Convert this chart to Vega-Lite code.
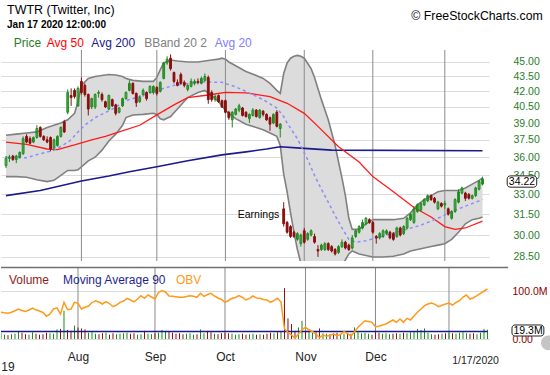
{
"$schema": "https://vega.github.io/schema/vega-lite/v6.json",
"padding": {"left": 0, "top": 4, "right": 0, "bottom": 0},
"background": "white",
"spacing": 3,
"config": {"view": {"stroke": null}},
"datasets": {
"d": [
{"i":0,"o":35.3,"h":36.1,"l":35.1,"c":35.9,"v":12,"obv":267},
{"i":1,"o":35.9,"h":36.2,"l":35.6,"c":36.0,"v":9,"obv":262},
{"i":2,"o":36.1,"h":36.2,"l":35.7,"c":35.8,"v":8,"obv":258},
{"i":3,"o":35.8,"h":36.2,"l":35.5,"c":36.1,"v":10,"obv":268},
{"i":4,"o":36.0,"h":36.5,"l":35.9,"c":36.4,"v":11,"obv":283},
{"i":5,"o":36.3,"h":37.8,"l":36.2,"c":37.6,"v":16,"obv":300},
{"i":6,"o":37.8,"h":38.0,"l":37.2,"c":37.3,"v":13,"obv":285},
{"i":7,"o":37.6,"h":37.8,"l":37.1,"c":37.2,"v":10,"obv":275},
{"i":8,"o":37.3,"h":37.8,"l":37.2,"c":37.7,"v":9,"obv":290},
{"i":9,"o":37.7,"h":38.8,"l":37.6,"c":38.5,"v":14,"obv":310},
{"i":10,"o":38.6,"h":38.7,"l":37.7,"c":37.8,"v":11,"obv":292},
{"i":11,"o":37.8,"h":37.9,"l":37.4,"c":37.5,"v":9,"obv":280},
{"i":12,"o":37.5,"h":37.8,"l":37.2,"c":37.3,"v":10,"obv":265},
{"i":13,"o":37.7,"h":37.8,"l":36.5,"c":36.7,"v":13,"obv":227},
{"i":14,"o":36.8,"h":37.6,"l":36.6,"c":37.5,"v":12,"obv":250},
{"i":15,"o":37.0,"h":37.9,"l":36.9,"c":37.8,"v":11,"obv":300},
{"i":16,"o":37.8,"h":38.7,"l":37.7,"c":38.6,"v":20,"obv":312},
{"i":17,"o":39.1,"h":39.3,"l":38.1,"c":38.2,"v":21,"obv":250},
{"i":18,"o":40.0,"h":42.2,"l":39.8,"c":41.9,"v":59,"obv":367},
{"i":19,"o":41.6,"h":42.3,"l":40.6,"c":41.4,"v":19,"obv":293},
{"i":20,"o":42.1,"h":42.3,"l":41.3,"c":41.5,"v":17,"obv":300},
{"i":21,"o":40.6,"h":42.5,"l":40.5,"c":42.3,"v":28,"obv":367},
{"i":22,"o":43.0,"h":43.4,"l":41.7,"c":41.9,"v":24,"obv":357},
{"i":23,"o":42.6,"h":42.8,"l":41.5,"c":41.7,"v":22,"obv":300},
{"i":24,"o":41.7,"h":41.8,"l":39.7,"c":40.3,"v":20,"obv":317},
{"i":25,"o":40.5,"h":41.4,"l":40.3,"c":41.3,"v":13,"obv":330},
{"i":26,"o":40.5,"h":41.8,"l":40.3,"c":41.7,"v":14,"obv":365},
{"i":27,"o":41.8,"h":42.1,"l":41.4,"c":41.9,"v":11,"obv":383},
{"i":28,"o":41.7,"h":41.9,"l":41.0,"c":41.2,"v":10,"obv":370},
{"i":29,"o":41.0,"h":41.1,"l":40.4,"c":40.5,"v":12,"obv":350},
{"i":30,"o":40.3,"h":41.7,"l":40.2,"c":41.6,"v":13,"obv":373},
{"i":31,"o":41.2,"h":41.3,"l":40.5,"c":40.6,"v":9,"obv":355},
{"i":32,"o":40.7,"h":40.8,"l":39.7,"c":39.9,"v":12,"obv":323},
{"i":33,"o":40.0,"h":40.5,"l":39.9,"c":40.4,"v":10,"obv":340},
{"i":34,"o":40.6,"h":41.4,"l":40.5,"c":41.3,"v":11,"obv":367},
{"i":35,"o":41.3,"h":42.0,"l":41.2,"c":41.9,"v":12,"obv":380},
{"i":36,"o":42.1,"h":43.1,"l":42.0,"c":42.8,"v":13,"obv":407},
{"i":37,"o":42.8,"h":42.9,"l":41.7,"c":41.8,"v":11,"obv":390},
{"i":38,"o":41.8,"h":41.9,"l":40.5,"c":40.9,"v":12,"obv":372},
{"i":39,"o":41.0,"h":41.6,"l":40.9,"c":41.4,"v":9,"obv":400},
{"i":40,"o":41.7,"h":42.3,"l":41.5,"c":42.1,"v":10,"obv":433},
{"i":41,"o":41.9,"h":42.0,"l":41.1,"c":41.3,"v":17,"obv":407},
{"i":42,"o":41.9,"h":42.6,"l":41.8,"c":42.5,"v":11,"obv":440},
{"i":43,"o":41.9,"h":42.6,"l":41.7,"c":42.5,"v":10,"obv":420},
{"i":44,"o":42.4,"h":42.5,"l":41.6,"c":41.8,"v":12,"obv":400},
{"i":45,"o":42.0,"h":43.0,"l":41.9,"c":42.9,"v":13,"obv":467},
{"i":46,"o":43.3,"h":45.0,"l":43.2,"c":44.9,"v":19,"obv":483},
{"i":47,"o":44.9,"h":45.6,"l":44.7,"c":45.3,"v":16,"obv":470},
{"i":48,"o":45.4,"h":45.8,"l":44.1,"c":44.3,"v":15,"obv":430},
{"i":49,"o":43.9,"h":44.0,"l":42.8,"c":43.0,"v":13,"obv":427},
{"i":50,"o":42.9,"h":43.2,"l":42.5,"c":42.6,"v":11,"obv":423},
{"i":51,"o":43.7,"h":43.9,"l":42.7,"c":42.8,"v":12,"obv":418},
{"i":52,"o":42.9,"h":43.1,"l":42.4,"c":42.6,"v":10,"obv":417},
{"i":53,"o":42.2,"h":42.8,"l":42.0,"c":42.6,"v":11,"obv":425},
{"i":54,"o":42.5,"h":43.3,"l":42.4,"c":43.0,"v":12,"obv":433},
{"i":55,"o":42.8,"h":43.2,"l":42.6,"c":43.0,"v":9,"obv":427},
{"i":56,"o":43.0,"h":43.3,"l":42.7,"c":42.9,"v":10,"obv":417},
{"i":57,"o":42.8,"h":43.5,"l":42.7,"c":43.3,"v":20,"obv":457},
{"i":58,"o":43.1,"h":43.8,"l":43.0,"c":43.5,"v":12,"obv":427},
{"i":59,"o":43.4,"h":43.6,"l":40.8,"c":41.2,"v":17,"obv":445},
{"i":60,"o":41.9,"h":42.1,"l":41.0,"c":41.2,"v":14,"obv":457},
{"i":61,"o":41.2,"h":41.7,"l":41.0,"c":41.5,"v":11,"obv":430},
{"i":62,"o":41.6,"h":41.7,"l":40.9,"c":41.0,"v":10,"obv":410},
{"i":63,"o":41.1,"h":41.2,"l":40.4,"c":40.5,"v":12,"obv":395},
{"i":64,"o":41.1,"h":41.2,"l":39.9,"c":40.0,"v":13,"obv":367},
{"i":65,"o":40.0,"h":40.1,"l":39.3,"c":39.5,"v":12,"obv":385},
{"i":66,"o":39.3,"h":40.1,"l":38.6,"c":40.0,"v":11,"obv":407},
{"i":67,"o":39.8,"h":40.4,"l":39.7,"c":40.3,"v":9,"obv":415},
{"i":68,"o":40.2,"h":40.8,"l":40.0,"c":40.6,"v":10,"obv":433},
{"i":69,"o":40.4,"h":40.5,"l":39.6,"c":39.7,"v":11,"obv":415},
{"i":70,"o":40.0,"h":40.1,"l":39.5,"c":39.6,"v":9,"obv":390},
{"i":71,"o":39.4,"h":39.9,"l":39.0,"c":39.8,"v":10,"obv":407},
{"i":72,"o":39.7,"h":40.4,"l":39.6,"c":40.2,"v":11,"obv":430},
{"i":73,"o":40.2,"h":40.3,"l":39.5,"c":39.6,"v":9,"obv":410},
{"i":74,"o":39.5,"h":40.3,"l":39.4,"c":40.2,"v":10,"obv":407},
{"i":75,"o":40.1,"h":40.2,"l":39.6,"c":39.8,"v":9,"obv":395},
{"i":76,"o":39.8,"h":39.9,"l":39.2,"c":39.3,"v":11,"obv":390},
{"i":77,"o":39.5,"h":39.6,"l":38.3,"c":38.9,"v":13,"obv":367},
{"i":78,"o":39.0,"h":39.9,"l":38.9,"c":39.8,"v":12,"obv":383},
{"i":79,"o":40.0,"h":40.2,"l":38.6,"c":38.7,"v":14,"obv":407},
{"i":80,"o":38.5,"h":39.0,"l":37.7,"c":38.9,"v":16,"obv":370},
{"i":81,"o":31.9,"h":32.4,"l":30.6,"c":30.8,"v":106,"obv":100},
{"i":82,"o":30.9,"h":31.0,"l":30.1,"c":30.2,"v":43,"obv":67},
{"i":83,"o":30.6,"h":30.7,"l":29.8,"c":29.9,"v":31,"obv":40},
{"i":84,"o":30.2,"h":30.3,"l":29.8,"c":29.9,"v":17,"obv":7},
{"i":85,"o":29.7,"h":30.2,"l":29.6,"c":30.1,"v":24,"obv":50},
{"i":86,"o":29.4,"h":30.1,"l":29.2,"c":30.0,"v":38,"obv":93},
{"i":87,"o":30.3,"h":30.5,"l":29.4,"c":29.5,"v":15,"obv":117},
{"i":88,"o":29.7,"h":30.2,"l":29.6,"c":30.1,"v":21,"obv":90},
{"i":89,"o":30.0,"h":30.4,"l":29.9,"c":30.3,"v":13,"obv":73},
{"i":90,"o":29.9,"h":30.1,"l":29.4,"c":29.5,"v":14,"obv":50},
{"i":91,"o":29.0,"h":29.3,"l":28.5,"c":28.9,"v":22,"obv":13},
{"i":92,"o":29.0,"h":29.4,"l":28.9,"c":29.3,"v":12,"obv":40},
{"i":93,"o":29.0,"h":29.5,"l":28.9,"c":29.4,"v":11,"obv":27},
{"i":94,"o":29.4,"h":29.5,"l":28.9,"c":29.0,"v":10,"obv":37},
{"i":95,"o":29.2,"h":29.3,"l":28.8,"c":28.9,"v":12,"obv":50},
{"i":96,"o":29.0,"h":29.1,"l":28.6,"c":28.7,"v":13,"obv":33},
{"i":97,"o":28.8,"h":29.3,"l":28.7,"c":29.2,"v":10,"obv":45},
{"i":98,"o":29.2,"h":29.7,"l":29.1,"c":29.5,"v":11,"obv":73},
{"i":99,"o":29.5,"h":29.6,"l":29.0,"c":29.1,"v":12,"obv":55},
{"i":100,"o":29.3,"h":29.4,"l":28.9,"c":29.0,"v":11,"obv":27},
{"i":101,"o":29.1,"h":30.0,"l":29.0,"c":29.8,"v":24,"obv":73},
{"i":102,"o":29.9,"h":30.4,"l":29.8,"c":30.3,"v":14,"obv":117},
{"i":103,"o":30.2,"h":30.7,"l":30.1,"c":30.6,"v":12,"obv":150},
{"i":104,"o":30.5,"h":31.1,"l":30.4,"c":30.9,"v":13,"obv":183},
{"i":105,"o":30.8,"h":31.3,"l":30.7,"c":31.2,"v":11,"obv":175},
{"i":106,"o":31.1,"h":31.2,"l":30.8,"c":30.9,"v":9,"obv":167},
{"i":107,"o":30.9,"h":31.0,"l":30.1,"c":30.2,"v":14,"obv":123},
{"i":108,"o":29.9,"h":30.0,"l":29.4,"c":29.8,"v":13,"obv":127},
{"i":109,"o":29.8,"h":30.2,"l":29.7,"c":30.1,"v":11,"obv":140},
{"i":110,"o":29.9,"h":30.4,"l":29.8,"c":30.3,"v":12,"obv":150},
{"i":111,"o":30.1,"h":30.4,"l":30.0,"c":30.3,"v":10,"obv":170},
{"i":112,"o":30.2,"h":30.3,"l":29.7,"c":29.8,"v":11,"obv":190},
{"i":113,"o":30.1,"h":30.2,"l":29.6,"c":29.7,"v":12,"obv":167},
{"i":114,"o":29.9,"h":30.6,"l":29.8,"c":30.5,"v":11,"obv":200},
{"i":115,"o":30.5,"h":30.6,"l":29.9,"c":30.0,"v":13,"obv":167},
{"i":116,"o":30.1,"h":30.7,"l":30.0,"c":30.6,"v":12,"obv":207},
{"i":117,"o":30.5,"h":31.3,"l":30.4,"c":31.2,"v":14,"obv":190},
{"i":118,"o":31.1,"h":31.6,"l":31.0,"c":31.5,"v":16,"obv":230},
{"i":119,"o":30.9,"h":32.1,"l":30.8,"c":31.9,"v":21,"obv":267},
{"i":120,"o":31.7,"h":32.3,"l":31.6,"c":32.2,"v":19,"obv":300},
{"i":121,"o":31.8,"h":32.4,"l":31.7,"c":32.3,"v":22,"obv":333},
{"i":122,"o":32.2,"h":32.7,"l":32.1,"c":32.6,"v":13,"obv":350},
{"i":123,"o":32.5,"h":33.0,"l":32.4,"c":32.9,"v":10,"obv":360},
{"i":124,"o":32.9,"h":33.0,"l":32.5,"c":32.6,"v":9,"obv":347},
{"i":125,"o":32.7,"h":32.8,"l":32.3,"c":32.4,"v":10,"obv":323},
{"i":126,"o":31.9,"h":32.5,"l":31.8,"c":32.4,"v":11,"obv":337},
{"i":127,"o":32.3,"h":32.4,"l":32.0,"c":32.1,"v":12,"obv":350},
{"i":128,"o":32.2,"h":32.5,"l":31.9,"c":32.3,"v":13,"obv":360},
{"i":129,"o":31.9,"h":32.0,"l":31.4,"c":31.5,"v":12,"obv":340},
{"i":130,"o":31.2,"h":31.8,"l":31.1,"c":31.7,"v":11,"obv":365},
{"i":131,"o":31.7,"h":32.7,"l":31.6,"c":32.6,"v":13,"obv":383},
{"i":132,"o":32.4,"h":33.4,"l":32.3,"c":33.2,"v":14,"obv":420},
{"i":133,"o":33.1,"h":33.6,"l":33.0,"c":33.5,"v":12,"obv":440},
{"i":134,"o":33.1,"h":33.2,"l":32.5,"c":32.7,"v":11,"obv":400},
{"i":135,"o":33.0,"h":33.1,"l":32.6,"c":32.7,"v":12,"obv":413},
{"i":136,"o":32.7,"h":33.0,"l":32.6,"c":32.9,"v":10,"obv":433},
{"i":137,"o":32.9,"h":33.6,"l":32.8,"c":33.5,"v":13,"obv":457},
{"i":138,"o":33.4,"h":34.1,"l":33.3,"c":34.0,"v":21,"obv":480},
{"i":139,"o":33.8,"h":34.4,"l":33.7,"c":34.22,"v":19.3,"obv":500}
],
"bb": [
{"i":0,"u":37.9,"l":34.4},{"i":3,"u":38.0,"l":34.4},{"i":6,"u":38.1,"l":34.35},{"i":9,"u":38.2,"l":34.15},
{"i":12,"u":38.6,"l":34.0},{"i":14,"u":38.8,"l":34.1},{"i":16,"u":39.0,"l":34.5},{"i":18,"u":39.3,"l":34.9},
{"i":20,"u":39.9,"l":34.9},{"i":21,"u":41.0,"l":34.95},{"i":22,"u":42.6,"l":35.2},{"i":24,"u":43.3,"l":35.7},
{"i":26,"u":43.5,"l":36.0},{"i":28,"u":43.6,"l":36.6},{"i":30,"u":43.7,"l":37.4},{"i":32,"u":43.65,"l":38.0},
{"i":34,"u":43.5,"l":38.8},{"i":35,"u":43.3,"l":39.5},{"i":37,"u":43.1,"l":39.75},{"i":40,"u":43.0,"l":39.8},
{"i":43,"u":43.0,"l":39.9},{"i":44,"u":43.4,"l":39.8},{"i":45,"u":44.2,"l":39.4},{"i":46,"u":44.9,"l":39.3},
{"i":48,"u":45.2,"l":39.6},{"i":50,"u":45.1,"l":40.3},{"i":53,"u":45.0,"l":41.4},{"i":56,"u":45.0,"l":41.9},
{"i":58,"u":45.1,"l":42.1},{"i":60,"u":45.2,"l":41.6},{"i":62,"u":45.3,"l":41.0},{"i":63,"u":45.4,"l":40.6},
{"i":64,"u":45.3,"l":40.2},{"i":65,"u":45.0,"l":39.9},{"i":67,"u":44.6,"l":39.4},{"i":70,"u":44.0,"l":38.9},
{"i":73,"u":43.6,"l":38.6},{"i":75,"u":43.3,"l":38.4},{"i":77,"u":42.8,"l":38.1},{"i":79,"u":42.1,"l":37.8},
{"i":80,"u":41.8,"l":37.0},{"i":81,"u":43.8,"l":34.6},{"i":82,"u":44.9,"l":33.2},{"i":83,"u":45.4,"l":31.6},
{"i":84,"u":45.6,"l":30.2},{"i":85,"u":45.7,"l":29.0},{"i":86,"u":45.6,"l":28.1},{"i":87,"u":45.4,"l":27.5},
{"i":89,"u":44.3,"l":27.0},{"i":90,"u":43.4,"l":26.9},{"i":92,"u":41.2,"l":26.9},{"i":94,"u":39.3,"l":27.1},
{"i":96,"u":37.0,"l":27.4},{"i":97,"u":35.6,"l":27.7},{"i":98,"u":34.3,"l":28.0},{"i":99,"u":32.9,"l":28.3},
{"i":100,"u":31.2,"l":28.7},{"i":101,"u":30.4,"l":28.9},{"i":103,"u":30.4,"l":28.7},{"i":105,"u":30.8,"l":28.6},
{"i":107,"u":31.1,"l":28.5},{"i":110,"u":31.1,"l":28.5},{"i":113,"u":31.1,"l":28.55},{"i":116,"u":31.2,"l":28.7},
{"i":118,"u":31.6,"l":28.9},{"i":120,"u":32.2,"l":29.0},{"i":122,"u":32.6,"l":29.1},{"i":124,"u":32.9,"l":29.2},
{"i":126,"u":33.2,"l":29.3},{"i":128,"u":33.3,"l":29.4},{"i":130,"u":33.3,"l":29.7},{"i":132,"u":33.3,"l":30.2},
{"i":134,"u":33.5,"l":30.8},{"i":136,"u":33.8,"l":31.1},{"i":138,"u":34.1,"l":31.2},{"i":139,"u":34.3,"l":31.3}
],
"ma20": [
{"i":0,"v":36.0},{"i":6,"v":35.95},{"i":10,"v":36.3},{"i":14,"v":36.6},{"i":17,"v":37.1},{"i":19,"v":37.5},
{"i":21,"v":38.2},{"i":23,"v":38.8},{"i":26,"v":39.5},{"i":31,"v":40.3},{"i":35,"v":41.1},{"i":39,"v":41.5},
{"i":44,"v":42.1},{"i":49,"v":42.6},{"i":53,"v":42.8},{"i":58,"v":42.95},{"i":63,"v":42.9},{"i":67,"v":42.45},
{"i":70,"v":42.0},{"i":75,"v":41.2},{"i":79,"v":40.4},{"i":81,"v":39.6},{"i":82,"v":39.0},{"i":85,"v":37.6},
{"i":88,"v":35.8},{"i":90,"v":34.5},{"i":92,"v":33.4},{"i":94,"v":32.4},{"i":96,"v":31.4},{"i":98,"v":30.5},
{"i":100,"v":29.7},{"i":102,"v":29.5},{"i":105,"v":29.6},{"i":108,"v":29.8},{"i":111,"v":30.0},{"i":116,"v":30.35},
{"i":121,"v":30.7},{"i":126,"v":31.2},{"i":130,"v":31.7},{"i":135,"v":32.2},{"i":139,"v":32.6}
],
"ma50": [
{"i":0,"v":37.3},{"i":6,"v":37.1},{"i":12,"v":36.7},{"i":15,"v":36.65},{"i":20,"v":37.05},{"i":25,"v":37.5},
{"i":29,"v":37.8},{"i":33,"v":38.2},{"i":39,"v":38.8},{"i":44,"v":39.75},{"i":49,"v":40.7},{"i":53,"v":41.4},
{"i":59,"v":41.65},{"i":64,"v":41.9},{"i":70,"v":41.85},{"i":77,"v":41.5},{"i":82,"v":40.85},{"i":87,"v":39.9},
{"i":91,"v":38.7},{"i":97,"v":36.9},{"i":103,"v":35.6},{"i":107,"v":34.4},{"i":113,"v":33.2},{"i":119,"v":32.0},
{"i":124,"v":31.3},{"i":128,"v":30.6},{"i":131,"v":30.4},{"i":134,"v":30.5},{"i":139,"v":31.0}
],
"ma200": [
{"i":0,"v":32.9},{"i":10,"v":33.3},{"i":22,"v":34.05},{"i":30,"v":34.45},{"i":36,"v":34.8},{"i":44,"v":35.2},
{"i":53,"v":35.7},{"i":63,"v":36.2},{"i":70,"v":36.45},{"i":76,"v":36.7},{"i":80,"v":36.9},{"i":87,"v":36.75},
{"i":95,"v":36.6},{"i":139,"v":36.55}
],
"vma": [{"i":0,"v":15.5},{"i":139,"v":15.6}],
"g": [{"i":22},{"i":44},{"i":64},{"i":87},{"i":107},{"i":128}]
},
"vconcat": [
{
"width": 488, "height": 211,
"layer": [
{"data": {"name": "bb"}, "mark": {"type": "area", "color": "#dcdcdc", "opacity": 1, "clip": true},
 "encoding": {"x": {"field": "i", "type": "quantitative", "scale": {"domain": [0, 139.43], "nice": false, "zero": false}, "axis": null},
  "y": {"field": "l", "type": "quantitative", "scale": {"type": "log", "domain": [28.23, 46.28], "nice": false, "zero": false},
   "axis": {"orient": "right", "values": [28.5,30,31.5,33,34.5,36,37.5,39,40.5,42,43.5,45], "format": ".2f", "title": null, "domain": false, "ticks": false, "labelPadding": 24, "labelColor": "#2a7d2a", "labelFontSize": 10.5, "labelFont": "Liberation Sans", "labelOverlap": false, "grid": true, "gridColor": "#dcdcdc"}},
  "y2": {"field": "u"}}},
{"data": {"name": "bb"}, "mark": {"type": "line", "color": "#808080", "strokeWidth": 1.6, "clip": true}, "encoding": {"x": {"field": "i", "type": "quantitative"}, "y": {"field": "u", "type": "quantitative"}}},
{"data": {"name": "bb"}, "mark": {"type": "line", "color": "#808080", "strokeWidth": 1.6, "clip": true}, "encoding": {"x": {"field": "i", "type": "quantitative"}, "y": {"field": "l", "type": "quantitative"}}},
{"data": {"name": "g"}, "mark": {"type": "rule", "color": "#8a8a8a", "strokeWidth": 1}, "encoding": {"x": {"field": "i", "type": "quantitative"}}},
{"data": {"name": "ma200"}, "mark": {"type": "line", "color": "#1a1a8c", "strokeWidth": 1.6, "clip": true}, "encoding": {"x": {"field": "i", "type": "quantitative"}, "y": {"field": "v", "type": "quantitative"}}},
{"data": {"name": "ma50"}, "mark": {"type": "line", "color": "#ff1a1a", "strokeWidth": 1.3, "clip": true}, "encoding": {"x": {"field": "i", "type": "quantitative"}, "y": {"field": "v", "type": "quantitative"}}},
{"data": {"name": "ma20"}, "mark": {"type": "line", "color": "#8c8cff", "strokeWidth": 1.5, "strokeDash": [3, 3], "clip": true}, "encoding": {"x": {"field": "i", "type": "quantitative"}, "y": {"field": "v", "type": "quantitative"}}},
{"data": {"name": "d"}, "mark": {"type": "rule", "strokeWidth": 1, "clip": true},
 "encoding": {"x": {"field": "i", "type": "quantitative"}, "y": {"field": "l", "type": "quantitative"}, "y2": {"field": "h"},
  "color": {"condition": {"test": "datum.c >= datum.o", "value": "#1a8a1a"}, "value": "#8b0f0f"}}},
{"data": {"name": "d"}, "mark": {"type": "bar", "width": 1.8, "strokeWidth": 1, "clip": true},
 "encoding": {"x": {"field": "i", "type": "quantitative"}, "y": {"field": "o", "type": "quantitative"}, "y2": {"field": "c"},
  "fill": {"condition": {"test": "datum.c >= datum.o", "value": "#ffffff"}, "value": "#8b0f0f"},
  "fillOpacity": {"condition": {"test": "datum.c >= datum.o", "value": 0}, "value": 1},
  "stroke": {"condition": {"test": "datum.c >= datum.o", "value": "#1a8a1a"}, "value": "#8b0f0f"}}},
{"data": {"values": [{"t": "TWTR (Twitter, Inc)"}]}, "mark": {"type": "text", "align": "left", "baseline": "middle", "fontSize": 12.5, "font": "Liberation Sans", "fill": "#000000"},
 "encoding": {"x": {"datum": 0.3}, "y": {"datum": 50.8}, "text": {"field": "t"}}},
{"data": {"values": [{"t": "Jan 17 2020 12:00:00"}]}, "mark": {"type": "text", "align": "left", "baseline": "middle", "fontSize": 10, "fontWeight": "bold", "font": "Liberation Sans", "fill": "#000000"},
 "encoding": {"x": {"datum": 0.3}, "y": {"datum": 49.07}, "text": {"field": "t"}}},
{"data": {"values": [{"t": "\u00a9 FreeStockCharts.com"}]}, "mark": {"type": "text", "align": "right", "baseline": "middle", "fontSize": 12.3, "font": "Liberation Sans", "fill": "#000000"},
 "encoding": {"x": {"datum": 156.57}, "y": {"datum": 50.12}, "text": {"field": "t"}}},
{"data": {"values": [{"t": "Price"}]}, "mark": {"type": "text", "align": "left", "baseline": "middle", "fontSize": 12, "font": "Liberation Sans", "fill": "#2a7d2a"},
 "encoding": {"x": {"datum": 2.29}, "y": {"datum": 47.05}, "text": {"field": "t"}}},
{"data": {"values": [{"t": "Avg 50"}]}, "mark": {"type": "text", "align": "left", "baseline": "middle", "fontSize": 12, "font": "Liberation Sans", "fill": "#ff0000"},
 "encoding": {"x": {"datum": 11.9}, "y": {"datum": 47.05}, "text": {"field": "t"}}},
{"data": {"values": [{"t": "Avg 200"}]}, "mark": {"type": "text", "align": "left", "baseline": "middle", "fontSize": 12, "font": "Liberation Sans", "fill": "#1a1a8c"},
 "encoding": {"x": {"datum": 24.9}, "y": {"datum": 47.05}, "text": {"field": "t"}}},
{"data": {"values": [{"t": "BBand 20 2"}]}, "mark": {"type": "text", "align": "left", "baseline": "middle", "fontSize": 12, "font": "Liberation Sans", "fill": "#808080"},
 "encoding": {"x": {"datum": 40.3}, "y": {"datum": 47.05}, "text": {"field": "t"}}},
{"data": {"values": [{"t": "Avg 20"}]}, "mark": {"type": "text", "align": "left", "baseline": "middle", "fontSize": 12, "font": "Liberation Sans", "fill": "#8080ff"},
 "encoding": {"x": {"datum": 60.86}, "y": {"datum": 47.05}, "text": {"field": "t"}}},
{"data": {"values": [{"t": "Earnings"}]}, "mark": {"type": "text", "align": "right", "baseline": "middle", "fontSize": 10.5, "font": "Liberation Sans", "fill": "#000000"},
 "encoding": {"x": {"datum": 79.7}, "y": {"datum": 31.45}, "text": {"field": "t"}}},
{"data": {"values": [{"t": "34.22"}]}, "mark": {"type": "rect", "fill": "#ffffff", "stroke": "#222222", "strokeWidth": 1, "cornerRadius": 3},
 "encoding": {"x": {"datum": 146.2}, "x2": {"datum": 154.8}, "y": {"datum": 33.56}, "y2": {"datum": 34.46}}},
{"data": {"values": [{"t": "34.22"}]}, "mark": {"type": "text", "align": "center", "baseline": "middle", "fontSize": 10.5, "font": "Liberation Sans", "fill": "#000000"},
 "encoding": {"x": {"datum": 150.5}, "y": {"datum": 34.0}, "text": {"field": "t"}}}
]
},
{
"width": 488, "height": 72,
"resolve": {"scale": {"y": "independent"}},
"layer": [
{"layer": [
{"data": {"name": "g"}, "mark": {"type": "rule", "color": "#8a8a8a", "strokeWidth": 1},
 "encoding": {"x": {"field": "i", "type": "quantitative", "scale": {"domain": [0, 139.43], "nice": false, "zero": false},
  "axis": {"orient": "bottom", "values": [22, 44, 64, 87, 107], "title": null, "grid": false, "domain": false, "ticks": false, "labelPadding": 12, "labelOverlap": false, "labelColor": "#222222", "labelFont": "Liberation Sans", "labelFontSize": 12,
   "labelExpr": "datum.value == 22 ? 'Aug' : datum.value == 44 ? 'Sep' : datum.value == 64 ? 'Oct' : datum.value == 87 ? 'Nov' : 'Dec'"}}}},
{"data": {"name": "d"}, "mark": {"type": "rule", "strokeWidth": 1, "clip": true},
 "encoding": {"x": {"field": "i", "type": "quantitative"},
  "y": {"field": "v", "type": "quantitative", "scale": {"domain": [0, 150], "nice": false, "zero": true},
   "axis": {"orient": "right", "values": [0, 50, 100], "title": null, "domain": false, "ticks": false, "labelPadding": 23, "labelColor": "#8b0000", "labelFontSize": 10.5, "labelFont": "Liberation Sans", "labelOverlap": false, "grid": true, "gridColor": "#dcdcdc",
   "labelExpr": "datum.value == 0 ? '0.00' : format(datum.value, '.1f') + 'M'"}},
  "y2": {"datum": 0},
  "color": {"condition": {"test": "datum.c >= datum.o", "value": "#1a8a1a"}, "value": "#8b0f0f"}}},
{"data": {"name": "vma"}, "mark": {"type": "line", "color": "#1a1a8c", "strokeWidth": 1.6, "clip": true}, "encoding": {"x": {"field": "i", "type": "quantitative"}, "y": {"field": "v", "type": "quantitative"}}},
{"data": {"values": [{"t": "sep"}]}, "mark": {"type": "rule", "color": "#707070", "strokeWidth": 1.5},
 "encoding": {"x": {"datum": 0}, "x2": {"datum": 144.9}, "y": {"datum": 149}}},
{"data": {"values": [{"t": "Volume"}]}, "mark": {"type": "text", "align": "left", "baseline": "middle", "fontSize": 12, "font": "Liberation Sans", "fill": "#8b1c1c"},
 "encoding": {"x": {"datum": 2.29}, "y": {"datum": 123.5}, "text": {"field": "t"}}},
{"data": {"values": [{"t": "Moving Average 90"}]}, "mark": {"type": "text", "align": "left", "baseline": "middle", "fontSize": 12, "font": "Liberation Sans", "fill": "#1f1f8f"},
 "encoding": {"x": {"datum": 17.71}, "y": {"datum": 123.5}, "text": {"field": "t"}}},
{"data": {"values": [{"t": "OBV"}]}, "mark": {"type": "text", "align": "left", "baseline": "middle", "fontSize": 12, "font": "Liberation Sans", "fill": "#ff9a1a"},
 "encoding": {"x": {"datum": 50}, "y": {"datum": 123.5}, "text": {"field": "t"}}},
{"data": {"values": [{"t": "icon"}]}, "mark": {"type": "point", "shape": "circle", "size": 220, "filled": true, "color": "#c4c4c4", "opacity": 1},
 "encoding": {"x": {"datum": 156.4}, "y": {"datum": -8}}},
{"data": {"values": [{"t": "19.3M"}]}, "mark": {"type": "rect", "fill": "#ffffff", "stroke": "#222222", "strokeWidth": 1, "cornerRadius": 3},
 "encoding": {"x": {"datum": 146.0}, "x2": {"datum": 155.1}, "y": {"datum": 6.25}, "y2": {"datum": 29.2}}},
{"data": {"values": [{"t": "19.3M"}]}, "mark": {"type": "text", "align": "center", "baseline": "middle", "fontSize": 10.5, "font": "Liberation Sans", "fill": "#000000"},
 "encoding": {"x": {"datum": 150.6}, "y": {"datum": 17.7}, "text": {"field": "t"}}},
{"data": {"values": [{"t": "1/17/2020"}]}, "mark": {"type": "text", "align": "center", "baseline": "middle", "fontSize": 10.5, "font": "Liberation Sans", "fill": "#222222"},
 "encoding": {"x": {"datum": 135.6}, "y": {"datum": -45.2}, "text": {"field": "t"}}},
{"data": {"values": [{"t": "19"}]}, "mark": {"type": "text", "align": "center", "baseline": "middle", "fontSize": 12, "font": "Liberation Sans", "fill": "#222222"},
 "encoding": {"x": {"datum": 2}, "y": {"datum": -59}, "text": {"field": "t"}}}
]},
{"data": {"name": "d"}, "mark": {"type": "line", "color": "#ff9a1a", "strokeWidth": 1.5, "clip": true},
 "encoding": {"x": {"field": "i", "type": "quantitative"}, "y": {"field": "obv", "type": "quantitative", "scale": {"domain": [0, 720], "nice": false, "zero": true}, "axis": null}}}
]
}
]
}
